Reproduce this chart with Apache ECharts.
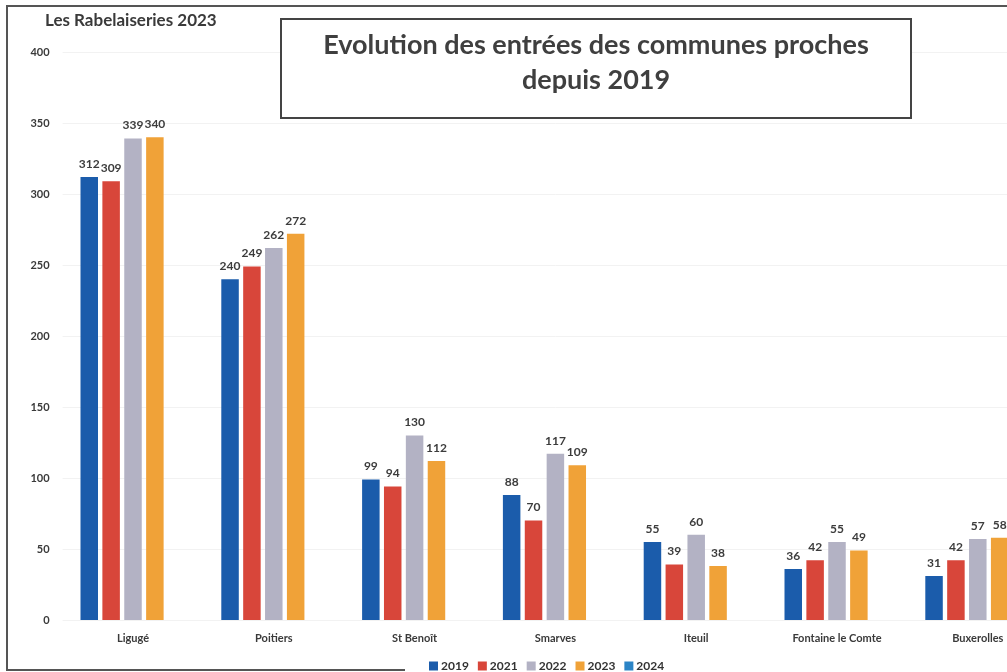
<!DOCTYPE html>
<html>
<head>
<meta charset="utf-8">
<script src="https://cdn.jsdelivr.net/npm/echarts@6/dist/echarts.min.js"></script>
<style>
html,body{margin:0;padding:0;background:#fff;overflow:hidden;width:1007px;height:672px;}
#chart{width:1060px;height:672px;}
</style>
</head>
<body>
<div id="chart"></div>
<script>
const categories = ['Ligugé', 'Poitiers', 'St Benoît', 'Smarves', 'Iteuil', 'Fontaine le Comte', 'Buxerolles'];
const seriesNames = ['2019', '2021', '2022', '2023', '2024'];
const values2019 = [312, 240, 99, 88, 55, 36, 31];
const values2021 = [309, 249, 94, 70, 39, 42, 42];
const values2022 = [339, 262, 130, 117, 60, 55, 57];
const values2023 = [340, 272, 112, 109, 38, 49, 58];
const values2024 = [null, null, null, null, null, null, null];
const yTicks = {min: 0, max: 400, interval: 50};
const mainTitle = 'Les Rabelaiseries 2023';
const boxTitle = ['Evolution des entrées des communes proches', 'depuis 2019'];

const colors = ['#1b5cab', '#d8463a', '#b3b2c4', '#f0a238', '#2b84c6'];
const allValues = [values2019, values2021, values2022, values2023, values2024];
const FONT = 'Lato';

const chart = echarts.init(document.getElementById('chart'), null, {renderer: 'canvas'});

const series = seriesNames.map((name, i) => ({
  name: name,
  type: 'bar',
  data: allValues[i],
  barWidth: 17.5,
  barGap: '25%',
  itemStyle: {color: colors[i]},
  label: {
    show: true,
    position: 'top',
    distance: 7,
    color: '#3c3c3c',
    fontFamily: FONT,
    fontWeight: 'bold',
    fontSize: 12
  }
}));

chart.setOption({
  animation: false,
  backgroundColor: '#ffffff',
  title: {
    text: mainTitle,
    left: 40,
    top: 7,
    textStyle: {fontFamily: FONT, fontWeight: 'bold', fontSize: 17, color: '#3a3a3a'}
  },
  legend: {
    data: seriesNames,
    left: 424,
    top: 655,
    icon: 'rect',
    itemWidth: 9,
    itemHeight: 9,
    itemGap: 9,
    textStyle: {fontFamily: FONT, fontWeight: 'bold', fontSize: 12, color: '#333', padding: [0, 0, 0, -2]}
  },
  grid: {left: 62.6, width: 985.6, top: 52, height: 568, containLabel: false},
  xAxis: {
    type: 'category',
    data: categories,
    axisLine: {show: false},
    axisTick: {show: false},
    axisLabel: {fontFamily: FONT, fontWeight: 'bold', fontSize: 11, color: '#3a3a3a', margin: 13, interval: 0}
  },
  yAxis: {
    type: 'value',
    min: yTicks.min,
    max: yTicks.max,
    interval: yTicks.interval,
    axisLine: {show: false},
    axisTick: {show: false},
    splitLine: {show: true, lineStyle: {color: '#f2f2f2', width: 1}},
    axisLabel: {fontFamily: FONT, fontWeight: 'bold', fontSize: 11, color: '#3a3a3a', margin: 13}
  },
  graphic: [
    {
      type: 'polyline',
      shape: {points: [[405, 670], [7, 670], [7, 6], [1100, 6]]},
      style: {fill: 'none', stroke: '#555', lineWidth: 2},
      silent: true,
      z: 100
    },
    {
      type: 'rect',
      shape: {x: 281, y: 19, width: 630, height: 99},
      style: {fill: '#fff', stroke: '#444', lineWidth: 2},
      z: 100
    },
    {
      type: 'text',
      x: 596,
      y: 45,
      style: {text: boxTitle[0], fontFamily: FONT, fontWeight: 'bold', fontSize: 27, fill: '#3f3f3f', align: 'center', verticalAlign: 'middle'},
      z: 101
    },
    {
      type: 'text',
      x: 596,
      y: 80,
      style: {text: boxTitle[1], fontFamily: FONT, fontWeight: 'bold', fontSize: 27, fill: '#3f3f3f', align: 'center', verticalAlign: 'middle'},
      z: 101
    }
  ],
  series: series
});
</script>
</body>
</html>
